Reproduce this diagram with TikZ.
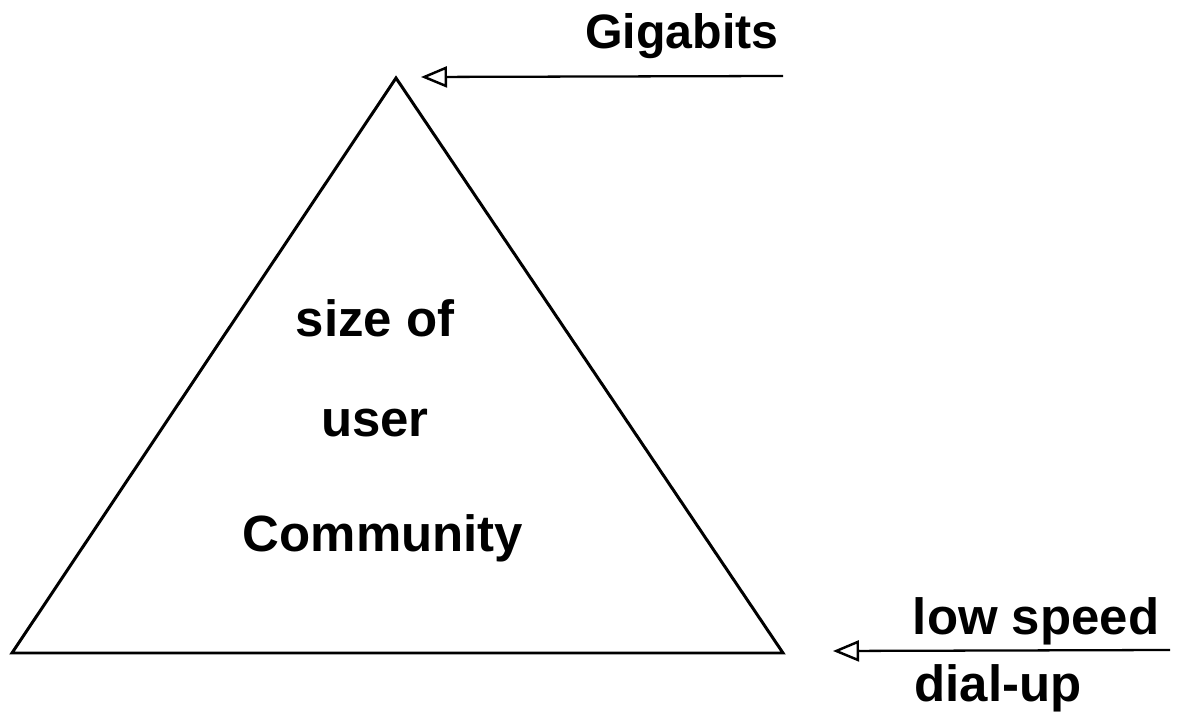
\documentclass[tikz,border=0pt]{standalone}
\usepackage{fontspec}
\setmainfont{Liberation Sans}
\usetikzlibrary{arrows.meta, positioning, calc}

\begin{document}
\begin{tikzpicture}[
    x=0.02cm, y=-0.02cm,
    label/.style={font=\fontsize{29}{34}\selectfont\bfseries, inner sep=0pt},
    edge/.style={line width=1.7pt, line join=miter},
    arrow/.style={line width=1.3pt, {Triangle[open, length=0.52cm, width=0.42cm, line width=1.4pt]}-}
]
\useasboundingbox (0,0) rectangle (1200,715);

% pyramid
\coordinate (apex) at (396,78);
\coordinate (left) at (12,653);
\coordinate (right) at (783,653);
\draw[edge] (apex) -- (left) -- (right) -- cycle;

\node[label] (size) at (375,318) {size of};
\node[label] (user) at (375,423) {user};
\node[label] (comm) at (383,538) {Community};

% top speed
\node[label, font=\fontsize{27.5}{34}\selectfont\bfseries] (giga) at (682,36) {Gigabits};
\coordinate (top-tip) at (421,77);
\coordinate (top-end) at (783,76);
\draw[arrow] (top-tip) -- (top-end);

% bottom speed
\coordinate (low-tip) at (833,651);
\coordinate (low-end) at (1170,650);
\draw[arrow] (low-tip) -- (low-end);
\node[label] (low) at (1036,621) {low speed};
\node[label] (dial) at (998,688) {dial-up};

\end{tikzpicture}
\end{document}
